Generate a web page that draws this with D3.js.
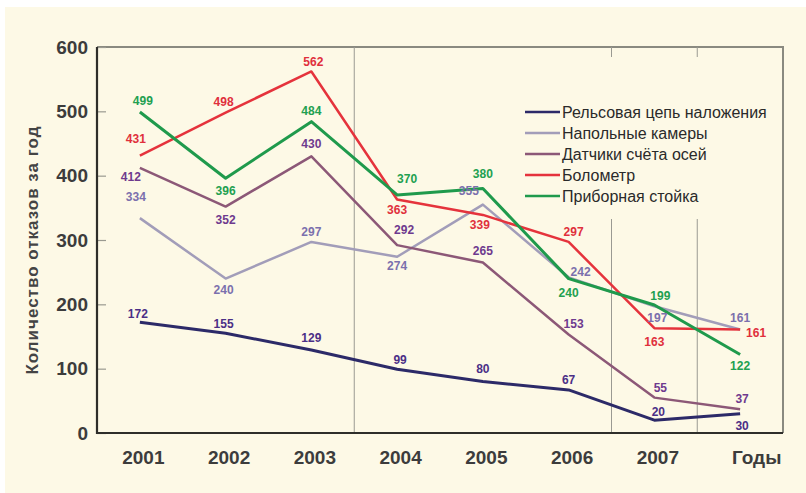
<!DOCTYPE html>
<html>
<head>
<meta charset="utf-8">
<script src="https://cdn.jsdelivr.net/npm/d3@7/dist/d3.min.js"></script>
<style>
  html, body { margin: 0; padding: 0; background: #fffef8; }
  svg { display: block; font-family: "Liberation Sans", Arial, sans-serif; }
</style>
</head>
<body>
<svg id="chart" width="806" height="493"></svg>
<script>
// Years on the category axis (the last slot is labelled "Годы")
const years = ["2001", "2002", "2003", "2004", "2005", "2006", "2007", "2008"];
const xTickLabels = ["2001", "2002", "2003", "2004", "2005", "2006", "2007", "Годы"];
const yTicks = [0, 100, 200, 300, 400, 500, 600];

// Failures per year for each device type
const railCircuit   = [172, 155, 129, 99, 80, 67, 20, 30];
const floorCameras  = [334, 240, 297, 274, 355, 242, 197, 161];
const axleCounters  = [412, 352, 430, 292, 265, 153, 55, 37];
const bolometer     = [431, 498, 562, 363, 339, 297, 163, 161];
const instrumentRack = [499, 396, 484, 370, 380, 240, 199, 122];

const seriesNames = [
  "Рельсовая цепь наложения",
  "Напольные камеры",
  "Датчики счёта осей",
  "Болометр",
  "Приборная стойка"
];

// Value-label placement offsets [dx, dy] relative to each point
const railOffsets   = [[-2,-8],[-2,-9],[0,-12],[3,-9],[0,-13],[0,-10],[4,-8],[2,12]];
const cameraOffsets = [[-4,-21],[-2,11],[0,-10],[0,9],[-14,-14],[12,-5],[3,12],[0,-11]];
const axleOffsets   = [[-9,9],[0,13],[0,-12],[7,-15],[0,-12],[5,-11],[6,-10],[2,-10]];
const boloOffsets   = [[-4,-17],[-2,-11],[2,-9],[0,11],[-3,10],[5,-10],[0,14],[16,4]];
const rackOffsets   = [[3,-11],[0,13],[0,-11],[10,-16],[0,-15],[0,14],[6,-9],[0,11]];

const series = [
  { name: seriesNames[0], values: railCircuit,    offsets: railOffsets,   line: "#2c2a68", label: "#4b2f86", width: 3 },
  { name: seriesNames[1], values: floorCameras,   offsets: cameraOffsets, line: "#a29db9", label: "#7b70ad", width: 2.5 },
  { name: seriesNames[2], values: axleCounters,   offsets: axleOffsets,   line: "#8c5877", label: "#6e3a8e", width: 2.5 },
  { name: seriesNames[3], values: bolometer,      offsets: boloOffsets,   line: "#e5333c", label: "#e0303c", width: 2.5 },
  { name: seriesNames[4], values: instrumentRack, offsets: rackOffsets,   line: "#1f9a4c", label: "#22a050", width: 3 }
];

const W = 806, H = 493;
const plot = { left: 97, right: 783, top: 47, bottom: 433 };
const svg = d3.select("#chart");

// Page background
svg.append("rect").attr("width", W).attr("height", H).attr("fill", "#ffffff");
svg.append("rect").attr("x", 5).attr("y", 7).attr("width", W - 5).attr("height", H - 7).attr("fill", "#fdf9e6");

const x = d3.scalePoint().domain(years).range([plot.left, plot.right]).padding(0.5);
const y = d3.scaleLinear().domain([0, 600]).range([plot.bottom, plot.top]);

// Frame: light top/right border
svg.append("path")
  .attr("d", `M${plot.left},${plot.top}H${plot.right}V${plot.bottom}`)
  .attr("fill", "none").attr("stroke", "#8a8a80").attr("stroke-width", 2);

// Period separators between year groups
const sepAfter = [2, 5, 6];
sepAfter.forEach(i => {
  const sx = (x(years[i]) + x(years[i + 1])) / 2;
  svg.append("line")
    .attr("x1", sx).attr("x2", sx)
    .attr("y1", plot.top).attr("y2", plot.bottom)
    .attr("stroke", "#9a9a92").attr("stroke-width", 1);
});

// Legend backdrop hides separators behind the legend
svg.append("rect")
  .attr("x", 515).attr("y", 57).attr("width", 266).attr("height", 162)
  .attr("fill", "#fdf9e6");

// Y axis with inward ticks
const yAxis = svg.append("g").attr("transform", `translate(${plot.left},0)`)
  .call(d3.axisLeft(y).tickValues(yTicks).tickSize(-9).tickPadding(18).tickFormat(d3.format("d")));
yAxis.select(".domain").remove();
yAxis.selectAll(".tick line").attr("stroke", "#9a9a90").attr("stroke-width", 1.2);
yAxis.selectAll(".tick text")
  .attr("x", -9)
  .attr("fill", "#3c3c3c").attr("font-size", 19).attr("font-weight", "bold")
  .attr("font-family", "'Liberation Sans', Arial, sans-serif");

// X axis labels
const xAxis = svg.append("g").attr("transform", `translate(0,${plot.bottom})`)
  .call(d3.axisBottom(x).tickSize(0).tickPadding(18).tickFormat((d, i) => xTickLabels[i]));
xAxis.select(".domain").remove();
xAxis.selectAll(".tick text")
  .attr("dx", (d, i) => i === years.length - 1 ? 16 : 3)
  .attr("fill", "#3c3c3c").attr("font-size", 19).attr("font-weight", "bold")
  .attr("font-family", "'Liberation Sans', Arial, sans-serif");

// Axis lines (left and bottom)
svg.append("path")
  .attr("d", `M${plot.left},${plot.top}V${plot.bottom}H${plot.right}`)
  .attr("fill", "none").attr("stroke", "#2e2e2a").attr("stroke-width", 2.2);

// Y axis title
svg.append("text")
  .attr("transform", `translate(32,${(plot.top + plot.bottom) / 2 + 10}) rotate(-90)`)
  .attr("text-anchor", "middle").attr("dominant-baseline", "central")
  .attr("font-size", 17).attr("font-weight", "bold").attr("letter-spacing", 1)
  .attr("fill", "#444")
  .text("Количество отказов за год");

// Series lines
const line = d3.line().x((d, i) => x(years[i])).y(d => y(d));
series.forEach(s => {
  svg.append("path")
    .datum(s.values)
    .attr("d", line)
    .attr("fill", "none")
    .attr("stroke", s.line)
    .attr("stroke-width", s.width)
    .attr("stroke-linejoin", "round");
});

// Value labels
series.forEach(s => {
  svg.append("g").selectAll("text")
    .data(s.values)
    .join("text")
    .attr("x", (d, i) => x(years[i]) + s.offsets[i][0])
    .attr("y", (d, i) => y(d) + s.offsets[i][1])
    .attr("text-anchor", "middle").attr("dominant-baseline", "central")
    .attr("font-size", 12).attr("font-weight", "bold")
    .attr("fill", s.label)
    .text(d => d);
});

// Legend
const legend = svg.append("g").attr("transform", "translate(525,112)");
series.forEach((s, i) => {
  const g = legend.append("g").attr("transform", `translate(0,${i * 21})`);
  g.append("line").attr("x1", 0).attr("x2", 35).attr("y1", 0).attr("y2", 0)
    .attr("stroke", s.line).attr("stroke-width", 2.5);
  g.append("text").attr("x", 37).attr("y", 0)
    .attr("dominant-baseline", "central")
    .attr("font-size", 16).attr("fill", "#2a2a2a")
    .text(s.name);
});
</script>
</body>
</html>
